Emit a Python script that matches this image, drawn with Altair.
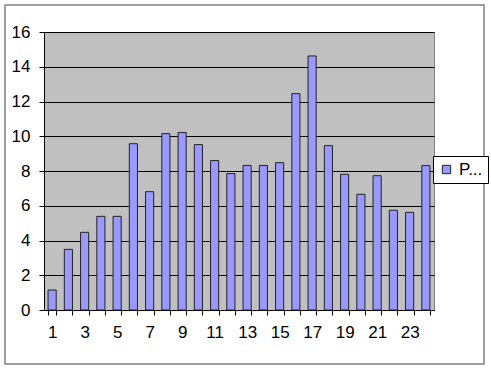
import altair as alt
import pandas as pd

hours = list(range(1, 25))
values = [1.15, 3.49, 4.47, 5.39, 5.39, 9.57, 6.81, 10.15, 10.21, 9.52, 8.6, 7.85,
          8.32, 8.32, 8.48, 12.45, 14.62, 9.46, 7.81, 6.66, 7.73, 5.74, 5.62, 8.31]
series_name = ["P..."]

df = pd.DataFrame({"hour": hours, "value": values, "series": series_name * len(hours)})

FONT = "Liberation Sans"

bars = alt.Chart(df).mark_bar(stroke="#222222", strokeWidth=1).encode(
    x=alt.X("hour:O",
            scale=alt.Scale(paddingInner=0.5, paddingOuter=0.25),
            axis=alt.Axis(title=None, labelAngle=0, tickBand="extent",
                          labelExpr="datum.value % 2 == 1 ? datum.label : ''",
                          labelFont=FONT, labelFontSize=17, labelColor="#000000",
                          labelPadding=9, tickSize=5, tickColor="#000000",
                          domainColor="#000000", grid=False)),
    y=alt.Y("value:Q",
            scale=alt.Scale(domain=[0, 16], nice=False),
            axis=alt.Axis(title=None, values=list(range(0, 17, 2)),
                          labelFont=FONT, labelFontSize=17, labelColor="#000000",
                          labelPadding=9, tickSize=5, tickColor="#000000",
                          domainColor="#000000", grid=True, gridColor="#000000",
                          gridWidth=1, gridOpacity=1)),
    fill=alt.Fill("series:N",
                  scale=alt.Scale(range=["#9999FF"]),
                  legend=alt.Legend(title=None, orient="none", legendX=389, legendY=124,
                                    symbolType="square", symbolSize=70,
                                    symbolStrokeColor="#222222", symbolStrokeWidth=1,
                                    labelFont=FONT, labelFontSize=17, labelColor="#000000",
                                    strokeColor="#000000", fillColor="#FFFFFF",
                                    padding=5, labelLimit=30)),
)

frame = alt.Chart(pd.DataFrame({"a": [0]})).mark_rect(
    fill=None, stroke="#808080", strokeWidth=1.5
).encode(
    x=alt.value(-39), x2=alt.value(440), y=alt.value(-27), y2=alt.value(332)
)

chart = alt.layer(frame, bars).properties(
    width=390, height=278,
    autosize=alt.AutoSizeParams(type="none"),
    padding={"left": 44, "top": 32, "right": 57, "bottom": 61},
    background="#FFFFFF",
).configure_view(
    stroke="#808080", fill="#C0C0C0"
)

chart.save("out.html", embed_options={"renderer": "svg", "actions": False})
